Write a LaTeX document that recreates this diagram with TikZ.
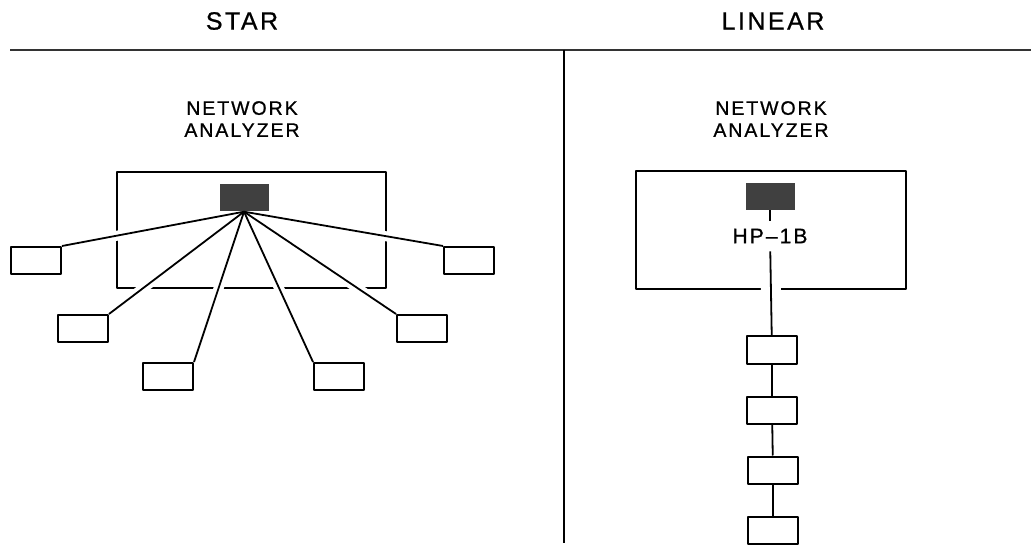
\documentclass[tikz,border=0pt]{standalone}
\usepackage{fontspec}
\setmainfont{Liberation Sans}[LetterSpace=10,FakeBold=0.8]
\usepackage{tikz}

\begin{document}
\begin{tikzpicture}[x=1pt,y=-1pt,line join=round,
  wire/.style={draw=black,line width=1.8pt},
  cutout/.style={draw=white,line width=10pt,shorten >=20pt,shorten <=20pt}]
 \tikzstyle{title} = [font=\fontsize{25}{30}\selectfont]
 \tikzstyle{caption} = [font=\fontsize{19.5}{22}\selectfont,align=center]
 \tikzstyle{frame} = [draw,line width=1.6pt,inner sep=0pt]
 \tikzstyle{port} = [fill=black!75,inner sep=0pt,minimum width=49pt,minimum height=27pt]
 \tikzstyle{device} = [draw,fill=white,line width=2pt,inner sep=0pt,minimum width=50pt,minimum height=27pt]
 \useasboundingbox (0,0) rectangle (1031,545);

% Headings and dividers
 \node[title] (startitle) at (242,21) {STAR};
 \node[title] (lintitle) at (773,21) {LINEAR};
 \draw[line width=2.6pt,black!80] (10,50) -- (1031,50);
 \draw[line width=2pt] (564,50) -- (564,543);

% Star
 \node[caption] (starname) at (242,119) {NETWORK\\ANALYZER};
 \node[frame,minimum width=269pt,minimum height=116pt] (starbox) at (251.5,230) {};
 \node[device] (l1) at (36,260.5) {};
 \node[device] (l2) at (83,328.5) {};
 \node[device] (l3) at (168,376.5) {};
 \node[device] (r3) at (339,376.5) {};
 \node[device] (r2) at (422,328.5) {};
 \node[device] (r1) at (469,260.5) {};
 \coordinate (hubfoot) at (244,212);
 % break the frame where the wires leave it
 \foreach \dev/\corner in {l1/north east,l2/north east,l3/north east,
                           r3/north west,r2/north west,r1/north west}
   \path[cutout] (hubfoot) -- (\dev.\corner);
 \node[port] (hub) at (244,198) {};
 \foreach \dev/\corner in {l1/north east,l2/north east,l3/north east,
                           r3/north west,r2/north west,r1/north west}
   \path[wire] (hub.south) -- (\dev.\corner);

% Linear
 \node[caption] (linname) at (771,119) {NETWORK\\ANALYZER};
 \node[frame,minimum width=270pt,minimum height=118pt] (linbox) at (771,230) {};
 \node[port] (bus) at (770,196.5) {};
 \node[font=\fontsize{21}{24}\selectfont,inner xsep=2pt,inner ysep=8pt] (hp) at (770,236) {HP--1B};
 \node[device] (b1) at (772,350) {};
 \node[device] (b2) at (772,410) {};
 \node[device] (b3) at (773,470) {};
 \node[device] (b4) at (773,530) {};
 \path[cutout,line width=20pt,shorten >=15pt,shorten <=15pt] (hp.south) -- (b1.north);
 \path[wire] (bus) -- (hp);
 \path[wire] (hp) -- (b1);
 \foreach \a/\b in {b1/b2,b2/b3,b3/b4}
   \path[wire] (\a) -- (\b);
\end{tikzpicture}
\end{document}
